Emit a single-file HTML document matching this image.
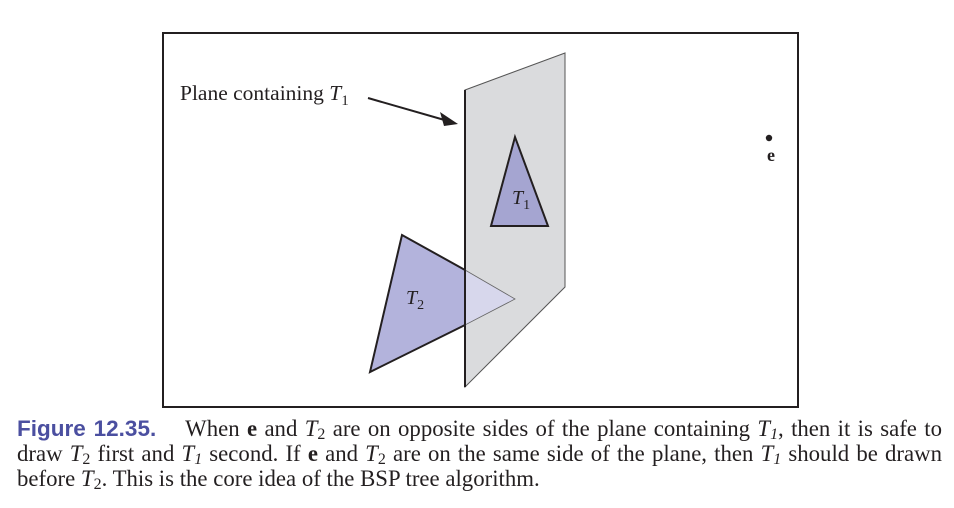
<!DOCTYPE html>
<html><head><meta charset="utf-8"><style>
body{margin:0;width:954px;height:508px;background:#fff;overflow:hidden;position:relative}
.cap{position:absolute;left:17px;width:925px;font-family:"Liberation Serif",serif;font-size:22.8px;color:#231f20;white-space:nowrap;text-align:justify;text-align-last:justify;line-height:26px}
.cap.last{text-align-last:left}
.fig{font-family:"Liberation Sans",sans-serif;font-weight:bold;color:#4b4fa0;font-size:22.5px}
sub{font-size:70%;vertical-align:-3px;line-height:0}
</style></head><body>
<svg width="954" height="508" style="position:absolute;left:0;top:0">
<rect x="163" y="33" width="635" height="374" fill="#fff" stroke="#231f20" stroke-width="2"/>
<polygon points="465,90 565,53 565,287 465,387" fill="#dadbdd" stroke="#555" stroke-width="1"/>
<line x1="465" y1="90" x2="465" y2="387" stroke="#231f20" stroke-width="2"/>
<polygon points="515,137 491,226 548,226" fill="#a5a5d1" stroke="#231f20" stroke-width="2"/>
<polygon points="465,270 515,299 465,325" fill="#d7d7ec" stroke="#666" stroke-width="0.8"/>
<polygon points="465,270 402,235 370,372 465,325" fill="#b3b3dc"/>
<polyline points="465,270 402,235 370,372 465,325" fill="none" stroke="#231f20" stroke-width="2"/>
<line x1="465" y1="270" x2="465" y2="325" stroke="#231f20" stroke-width="2"/>
<line x1="368" y1="98" x2="448" y2="121" stroke="#231f20" stroke-width="2"/>
<polygon points="458,124 440,112 444,126" fill="#231f20"/>
<circle cx="769" cy="138" r="3.2" fill="#231f20"/>
<g font-family="Liberation Serif,serif" fill="#231f20">
<text x="180" y="100" font-size="21.5">Plane containing <tspan font-style="italic">T</tspan><tspan font-size="15" dy="5">1</tspan></text>
<text x="767" y="161" font-size="18" font-weight="bold">e</text>
<text x="512" y="204" font-size="20" font-style="italic">T<tspan font-style="normal" font-size="14" dy="5">1</tspan></text>
<text x="406" y="304" font-size="20" font-style="italic">T<tspan font-style="normal" font-size="14" dy="5">2</tspan></text>
</g>
</svg>
<div class="cap" style="top:416px"><span class="fig">Figure 12.35.</span>&nbsp;&nbsp;&nbsp; When <b>e</b> and <i>T</i><sub>2</sub> are on opposite sides of the plane containing <i>T<sub>1</sub></i>, then it is safe to</div>
<div class="cap" style="top:441px">draw <i>T</i><sub>2</sub> first and <i>T<sub>1</sub></i> second. If <b>e</b> and <i>T</i><sub>2</sub> are on the same side of the plane, then <i>T<sub>1</sub></i> should be drawn</div>
<div class="cap last" style="top:466px">before <i>T</i><sub>2</sub>. This is the core idea of the BSP tree algorithm.</div>
</body></html>
